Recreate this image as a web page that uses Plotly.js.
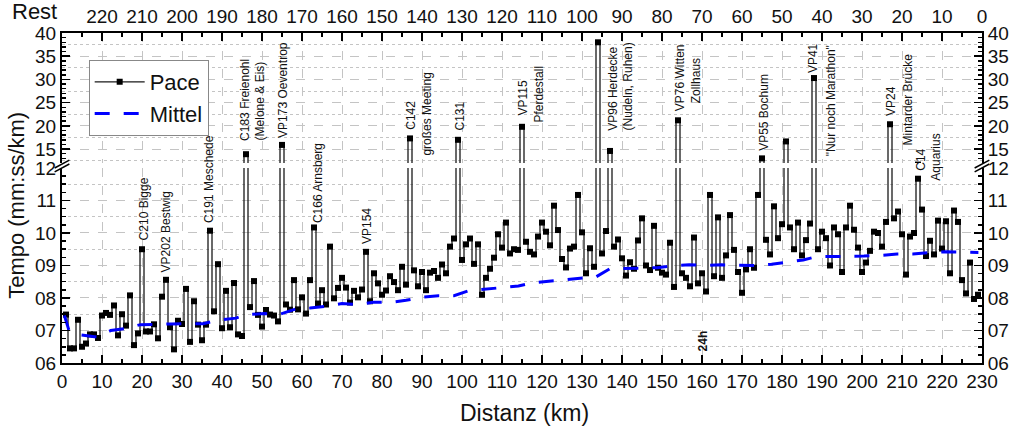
<!DOCTYPE html>
<html>
<head>
<meta charset="utf-8">
<script src="https://cdn.plot.ly/plotly-3.0.1.min.js"></script>
<style>
  html, body { margin: 0; padding: 0; background: #fff; }
  #chart { width: 1024px; height: 439px; }
</style>
</head>
<body>
<div id="chart"></div>
<script>
// pace per km (min/km, decimal minutes), km 1 .. 229
var pace = [
  7.49, 6.45, 6.45, 7.33, 6.5, 6.6, 6.88, 6.88, 6.77, 7.46,
  7.54, 7.48, 7.77, 6.85, 7.5, 7.15, 8.08, 6.55, 6.91, 9.5,
  6.97, 6.97, 7.19, 6.76, 8.04, 8.56, 7.1, 6.42, 7.3, 7.2,
  8.28, 6.65, 7.9, 7.18, 6.7, 7.18, 10.07, 7.59, 9.04, 7.07,
  8.22, 7.1, 8.46, 6.88, 6.83, 13.9, 7.72, 8.52, 7.48, 7.12,
  7.63, 7.49, 7.46, 7.28, 15.9, 7.8, 7.64, 8.55, 7.65, 8.02,
  7.52, 8.55, 10.17, 7.83, 8.24, 7.8, 9.58, 7.99, 8.31, 8.62,
  8.32, 7.86, 8.22, 8.02, 8.26, 9.42, 7.9, 8.76, 8.45, 8.1,
  8.23, 8.67, 8.49, 8.24, 8.96, 8.41, 17.3, 8.85, 8.36, 8.8,
  8.24, 8.78, 8.83, 8.62, 9.03, 8.76, 9.58, 9.83, 17.0, 9.17,
  9.65, 9.83, 9.05, 9.65, 8.1, 8.62, 8.9, 9.24, 9.96, 9.55,
  10.32, 9.37, 9.5, 9.48, 19.8, 9.73, 9.42, 9.34, 9.89, 10.32,
  10.04, 9.62, 10.84, 10.09, 9.2, 8.94, 9.52, 9.58, 11.17, 10.02,
  8.76, 9.53, 8.96, 38.0, 9.37, 10.06, 14.6, 9.58, 9.8, 9.22,
  8.69, 9.1, 8.9, 9.77, 10.45, 9.0, 8.86, 10.22, 8.93, 8.78,
  8.72, 9.7, 8.34, 21.2, 8.76, 8.62, 8.36, 9.86, 8.45, 8.76,
  8.2, 11.17, 8.67, 10.48, 8.62, 9.31, 10.55, 9.48, 8.8, 8.16,
  8.88, 9.5, 8.93, 11.17, 13.0, 9.79, 9.34, 10.82, 9.84, 10.27,
  16.65, 10.17, 9.5, 10.32, 9.31, 9.78, 10.29, 30.3, 9.5, 10.04,
  9.84, 9.0, 10.17, 9.96, 8.8, 10.17, 10.84, 10.1, 9.55, 8.8,
  9.09, 9.45, 10.04, 10.0, 9.58, 10.34, 20.35, 10.45, 10.66, 9.96,
  8.72, 9.89, 10.0, 11.67, 10.72, 9.29, 9.76, 9.34, 10.38, 9.52,
  10.36, 8.76, 10.69, 10.34, 8.55, 8.14, 9.09, 7.97, 8.1
]
var km = pace.map(function (v, i) { return i + 1 })

// running mean
var mittelKm = [0.6, 1.75, 4.5, 8.7, 12.2, 16.2, 19.6, 23.2, 27.2, 30.5,
  35.3, 38.7, 43.5, 46, 50.6, 54.2, 58.4, 62, 66.2, 70,
  74.1, 77.8, 82.4, 86, 90.5, 94.1, 98, 101.6, 106.2, 109.7,
  114.1, 117.7, 122.2, 125.8, 130.3, 133.5, 137, 140.5, 145.2, 148.8,
  153.3, 156.8, 161.3, 164.9, 169.4, 173.3, 177.4, 181.2, 185.3, 188.5,
  193.7, 196.3, 200.5, 204.5, 208.8, 212.7, 217, 220.8, 225.2, 229.1]
var mittelVal = [7.46, 7.0, 6.87, 6.8, 7.0, 7.07, 7.18, 7.18, 7.2, 7.21,
  7.21, 7.31, 7.38, 7.49, 7.52, 7.49, 7.66, 7.69, 7.75, 7.83,
  7.8, 7.87, 7.87, 7.93, 8.03, 8.07, 8.07, 8.22, 8.28, 8.31,
  8.37, 8.47, 8.52, 8.57, 8.62, 8.65, 8.9, 8.9, 8.92, 8.93,
  9.0, 9.02, 9.0, 9.02, 9.02, 9.0, 9.04, 9.1, 9.17, 9.27,
  9.27, 9.27, 9.29, 9.31, 9.35, 9.35, 9.4, 9.42, 9.4, 9.4]

// tick labels
var lowTicks = [6, 7, 8, 9, 10, 11, 12]
var lowText = ['06', '07', '08', '09', '10', '11', '12']
var highTicks = [15, 20, 25, 30, 35, 40]
var highText = ['15', '20', '25', '30', '35', '40']
var restTicks = [0, 10, 20, 30, 40, 50, 60, 70, 80, 90, 100, 110, 120, 130, 140, 150, 160, 170, 180, 190, 200, 210, 220]

// checkpoint notes: text, km, bottom of text in paper units
var notes = [
  ['C210 Bigge', 20.5, 0.364],
  ['VP202 Bestwig', 26, 0.267],
  ['C191 Meschede', 36.75, 0.418],
  ['C183 Freienohl', 45.75, 0.667],
  ['(Melone & Eis)', 49.5, 0.667],
  ['VP173 Oeventrop', 55.25, 0.676],
  ['C166 Arnsberg', 64, 0.418],
  ['VP154', 76.3, 0.355],
  ['C142', 87.4, 0.701],
  ['großes Meeting', 91.25, 0.621],
  ['C131', 99.5, 0.697],
  ['VP115', 115.2, 0.745],
  ['Pferdestall', 119.25, 0.721],
  ['VP96 Herdecke', 137.7, 0.697],
  ['(Nudeln, Ruhen)', 141.6, 0.700],
  ['VP76 Witten', 154.7, 0.758],
  ['Zollhaus', 158.7, 0.782],
  ['VP55 Bochum', 175.3, 0.636],
  ['VP41', 187.8, 0.873],
  ['"Nur noch Marathon"', 192.2, 0.621],
  ['VP24', 207.2, 0.742],
  ['Mintarder Brücke', 211.4, 0.652],
  ['C14', 214.7, 0.576],
  ['Aquarius', 218.5, 0.545]
]

var FONT = 'Liberation Sans, Arial, sans-serif'
var GRID = '#c4c4c4'

var paceLine = { shape: 'hvh', color: '#1a1a1a', width: 1.3 }
var paceMarker = { symbol: 'square', size: 6, color: '#000' }

// invisible copy, only so that an extra axis gets drawn
function ghost(xa, ya) {
  return { x: km, y: pace, xaxis: xa, yaxis: ya, mode: 'lines', line: { width: 0 },
    opacity: 0, hoverinfo: 'skip', showlegend: false }
}

var traces = [
  { x: km, y: pace, xaxis: 'x', yaxis: 'y', name: 'Pace', mode: 'lines+markers',
    line: paceLine, marker: paceMarker },
  { x: km, y: pace, xaxis: 'x', yaxis: 'y2', name: 'Pace', mode: 'lines+markers',
    line: paceLine, marker: paceMarker, showlegend: false },
  { x: mittelKm, y: mittelVal, xaxis: 'x', yaxis: 'y', name: 'Mittel', mode: 'lines',
    line: { color: '#0000ff', width: 3, dash: '15px,14px' } },
  ghost('x2', 'y2'), ghost('x', 'y3'), ghost('x', 'y4'), ghost('x', 'y5'), ghost('x', 'y6')
]

function yAx(extra) {
  var base = {
    anchor: 'x', showline: true, linewidth: 2, linecolor: '#000',
    ticks: 'inside', ticklen: 8, tickwidth: 1.5, tickcolor: '#000',
    tickmode: 'array', zeroline: false, tickfont: { size: 19 }
  }
  for (var k in extra) base[k] = extra[k]
  return base
}

var lowDom = [0, 0.591]
var highDom = [0.606, 1]

var annotations = notes.map(function (n) {
  return {
    text: n[0], x: n[1], xref: 'x', y: n[2], yref: 'paper',
    textangle: -90, xanchor: 'center', yanchor: 'bottom', showarrow: false,
    font: { family: FONT, size: 12, color: '#111' }
  }
})
annotations.push(
  { text: '<b>24h</b>', x: 160.2, xref: 'x', y: 0.03, yref: 'paper', textangle: -90,
    xanchor: 'center', yanchor: 'bottom', showarrow: false, font: { family: FONT, size: 12, color: '#111' } },
  { text: 'Tempo (mm:ss/km)', x: -0.049, xref: 'paper', y: 0.479, yref: 'paper', textangle: -90,
    xanchor: 'center', yanchor: 'middle', showarrow: false, font: { family: FONT, size: 22, color: '#111' } },
  { text: 'Distanz (km)', x: 0.503, xref: 'paper', y: -0.152, yref: 'paper',
    xanchor: 'center', yanchor: 'middle', showarrow: false, font: { family: FONT, size: 23, color: '#111' } },
  { text: 'Rest', x: -0.056, xref: 'paper', y: 1.064, yref: 'paper',
    xanchor: 'left', yanchor: 'middle', showarrow: false, font: { family: FONT, size: 22, color: '#111' } }
)

// axis break marks (paper units)
function brk(x0, y0, x1, y1) {
  return { type: 'line', xref: 'paper', yref: 'paper', x0: x0, y0: y0, x1: x1, y1: y1,
    line: { color: '#000', width: 1.5 } }
}
var shapes = [
  brk(-0.008, 0.579, 0.008, 0.603), brk(-0.008, 0.591, 0.008, 0.615),
  brk(0.992, 0.579, 1.008, 0.603), brk(0.992, 0.591, 1.008, 0.615)
]

var layout = {
  width: 1024, height: 439,
  margin: { l: 62, r: 42, t: 33, b: 76 },
  paper_bgcolor: '#fff', plot_bgcolor: 'rgba(0,0,0,0)',
  font: { family: FONT, size: 19, color: '#111' },
  showlegend: true,
  legend: {
    x: 0.029, y: 0.918, xanchor: 'left', yanchor: 'top',
    bgcolor: '#fff', bordercolor: '#888', borderwidth: 1,
    font: { family: FONT, size: 22 }, itemwidth: 50, tracegroupgap: 0
  },
  xaxis: {
    domain: [0, 1], range: [0, 230], anchor: 'y',
    tickmode: 'linear', tick0: 0, dtick: 10,
    ticks: 'inside', ticklen: 8, tickwidth: 1.5, tickcolor: '#000',
    showline: true, linewidth: 2, linecolor: '#000',
    showgrid: true, gridcolor: GRID, griddash: 'dash', gridwidth: 1,
    minor: { dtick: 5, tick0: 0, ticks: 'inside', ticklen: 4, tickcolor: '#000', showgrid: false },
    zeroline: false, tickfont: { size: 19 }
  },
  xaxis2: {
    overlaying: 'x', anchor: 'y2', side: 'top', range: [230, 0],
    tickmode: 'array', tickvals: restTicks,
    ticks: 'inside', ticklen: 8, tickwidth: 1.5, tickcolor: '#000',
    showline: true, linewidth: 2, linecolor: '#000', showgrid: false,
    minor: { dtick: 5, tick0: 0, ticks: 'inside', ticklen: 4, tickcolor: '#000', showgrid: false },
    zeroline: false, tickfont: { size: 19 }
  },
  yaxis: yAx({
    domain: lowDom, range: [6, 12], tickvals: lowTicks, ticktext: lowText,
    showgrid: true, gridcolor: GRID, griddash: 'dash',
    minor: { dtick: 0.25, tick0: 6, ticks: 'inside', ticklen: 4, tickcolor: '#000', showgrid: false }
  }),
  yaxis2: yAx({
    domain: highDom, range: [12, 40], tickvals: highTicks, ticktext: highText,
    showgrid: true, gridcolor: GRID, griddash: 'dash',
    minor: { dtick: 1, tick0: 12, ticks: 'inside', ticklen: 4, tickcolor: '#000', showgrid: false }
  }),
  yaxis3: yAx({
    overlaying: 'y', side: 'right', range: [6, 12], tickvals: lowTicks, ticktext: lowText,
    showgrid: false,
    minor: { dtick: 0.25, tick0: 6, ticks: 'inside', ticklen: 4, tickcolor: '#000', showgrid: false }
  }),
  yaxis4: yAx({
    overlaying: 'y2', side: 'right', range: [12, 40], tickvals: highTicks, ticktext: highText,
    showgrid: false,
    minor: { dtick: 1, tick0: 12, ticks: 'inside', ticklen: 4, tickcolor: '#000', showgrid: false }
  }),
  // dotted half-step grid
  yaxis5: {
    overlaying: 'y', anchor: 'x', range: [6, 12], tickmode: 'linear', tick0: 6.5, dtick: 1,
    showgrid: true, gridcolor: GRID, griddash: 'dot', showticklabels: false, ticks: '',
    showline: false, zeroline: false
  },
  yaxis6: {
    overlaying: 'y2', anchor: 'x', range: [12, 40], tickmode: 'linear', tick0: 17.5, dtick: 5,
    showgrid: true, gridcolor: GRID, griddash: 'dot', showticklabels: false, ticks: '',
    showline: false, zeroline: false
  },
  annotations: annotations,
  shapes: shapes
}

Plotly.newPlot('chart', traces, layout, { staticPlot: true })
</script>
</body>
</html>
